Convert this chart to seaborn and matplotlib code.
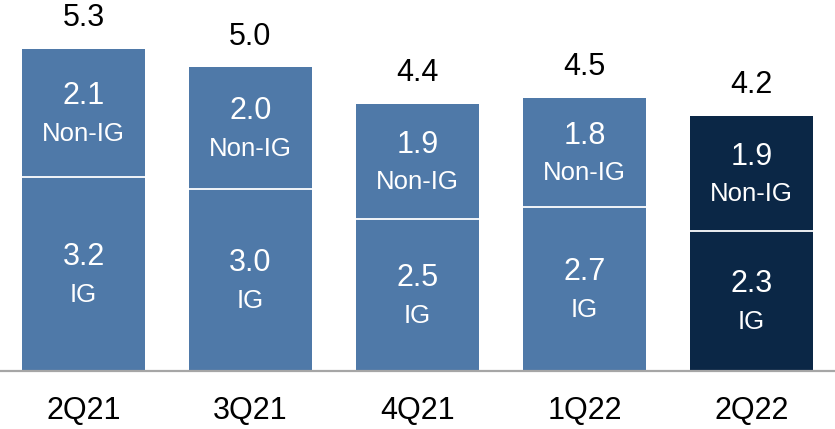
import matplotlib
matplotlib.use("Agg")
import matplotlib.pyplot as plt
import seaborn as sns
import pandas as pd

quarters = ["2Q21", "3Q21", "4Q21", "1Q22", "2Q22"]
ig = [3.2, 3.0, 2.5, 2.7, 2.3]
non_ig = [2.1, 2.0, 1.9, 1.8, 1.9]
totals = [5.3, 5.0, 4.4, 4.5, 4.2]

light = "#4f79a8"
dark = "#0b2746"
colors = [light, light, light, light, dark]

sns.set_theme(style="white")
plt.rcParams["font.family"] = ["Liberation Sans", "DejaVu Sans"]

df = pd.DataFrame({"q": quarters, "ig": ig, "non_ig": non_ig, "total": totals})

fig = plt.figure(figsize=(8.35, 4.29), dpi=100)
ax = fig.add_axes([0, 58 / 429, 1, 371 / 429])

pal = dict(zip(quarters, colors))
sns.barplot(data=df, x="q", y="total", hue="q", palette=pal, dodge=False,
            width=0.737, ax=ax, legend=False, saturation=1, edgecolor="none")
sns.barplot(data=df, x="q", y="ig", hue="q", palette=pal, dodge=False,
            width=0.737, ax=ax, legend=False, saturation=1, edgecolor="none")

# white separators between segments
for i, v in enumerate(ig):
    ax.plot([i - 0.3685, i + 0.3685], [v, v], color="white", lw=1.3, solid_capstyle="butt")

for i in range(len(quarters)):
    c_ig = ig[i] / 2
    c_non = ig[i] + non_ig[i] / 2
    for c, val, lab in [(c_ig, ig[i], "IG"), (c_non, non_ig[i], "Non-IG")]:
        ax.annotate(f"{val:.1f}", (i, c), xytext=(0, 12), textcoords="offset points",
                    ha="center", va="center", color="white", fontsize=22)
        ax.annotate(lab, (i, c), xytext=(0, -15), textcoords="offset points",
                    ha="center", va="center", color="white", fontsize=18.5)
    ax.annotate(f"{totals[i]:.1f}", (i, totals[i]), xytext=(0, 22), textcoords="offset points",
                ha="center", va="center", color="black", fontsize=22)

ax.set_xlim(-0.5, 4.5)
ax.set_ylim(0, 371 / 60.75)
ax.set_xlabel("")
ax.set_ylabel("")
ax.set_yticks([])
ax.tick_params(axis="x", length=0, pad=18, labelsize=22, colors="black")
for s in ["top", "right", "left"]:
    ax.spines[s].set_visible(False)
ax.spines["bottom"].set_color("#a6a6a6")
ax.spines["bottom"].set_linewidth(1.6)
ax.patch.set_alpha(0)

fig.savefig("out.png", dpi=100)
